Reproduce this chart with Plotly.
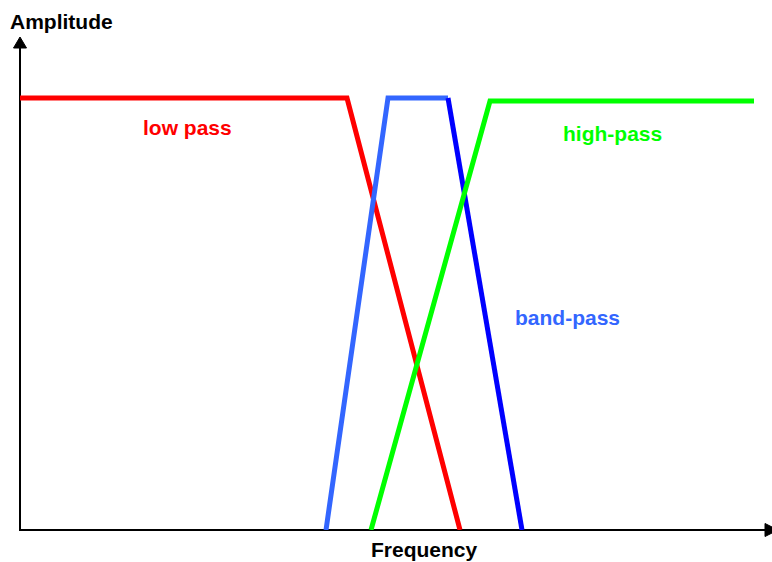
import plotly.graph_objects as go

# Filter response curves (frequency units, amplitude units)
low_x = [0, 327, 440]
low_y = [432, 432, 0]
band_rise_x = [306, 368, 428]
band_rise_y = [0, 432, 432]
band_fall_x = [428, 502]
band_fall_y = [432, 0]
high_x = [351, 470, 734]
high_y = [0, 429, 429]

labels = ["low pass", "high-pass", "band-pass"]
label_x = [167, 592, 547]
label_y = [403, 397, 213]
label_colors = ["#ff0000", "#00ff00", "#3366ff"]

W, H = 772, 562
ML, MR, MT, MB = 20, 0, 30, 32
PW, PH = W - ML - MR, H - MT - MB


def px(x):
    return (x - ML) / PW


def py(y):
    return (H - MB - y) / PH


fig = go.Figure()
lw = 5
fig.add_trace(go.Scatter(x=low_x, y=low_y, mode="lines", line=dict(color="#ff0000", width=lw), cliponaxis=False))
fig.add_trace(go.Scatter(x=band_rise_x, y=band_rise_y, mode="lines", line=dict(color="#3366ff", width=lw), cliponaxis=False))
fig.add_trace(go.Scatter(x=band_fall_x, y=band_fall_y, mode="lines", line=dict(color="#0000ff", width=lw), cliponaxis=False))
fig.add_trace(go.Scatter(x=high_x, y=high_y, mode="lines", line=dict(color="#00ff00", width=lw), cliponaxis=False))

font = dict(family="Liberation Sans, Arial, sans-serif", size=21, weight="bold")
for t, x, y, c in zip(labels, label_x, label_y, label_colors):
    fig.add_annotation(x=x, y=y, text=t, showarrow=False, font=dict(font, color=c), xanchor="center", yanchor="middle")

fig.add_annotation(xref="paper", yref="paper", x=px(61), y=py(22), text="Amplitude", showarrow=False,
                   font=dict(font, color="black"), xanchor="center", yanchor="middle")
fig.add_annotation(xref="paper", yref="paper", x=px(424), y=py(549), text="Frequency", showarrow=False,
                   font=dict(font, color="black"), xanchor="center", yanchor="middle")

# axes with arrowheads
ax_line = dict(color="black", width=2)
fig.add_shape(type="line", xref="paper", yref="paper", x0=px(20), y0=py(531), x1=px(20), y1=py(46), line=ax_line, layer="below")
fig.add_shape(type="line", xref="paper", yref="paper", x0=px(19), y0=py(530), x1=px(766), y1=py(530), line=ax_line, layer="below")
fig.add_shape(type="path", xref="paper", yref="paper",
              path=f"M {px(13.5)} {py(48)} L {px(20)} {py(37)} L {px(26.5)} {py(48)} Z",
              fillcolor="black", line=dict(color="black", width=1))
fig.add_shape(type="path", xref="paper", yref="paper",
              path=f"M {px(765)} {py(523.5)} L {px(778)} {py(530)} L {px(765)} {py(536.5)} Z",
              fillcolor="black", line=dict(color="black", width=1))

fig.update_layout(
    width=W, height=H,
    margin=dict(l=ML, r=MR, t=MT, b=MB),
    paper_bgcolor="white", plot_bgcolor="white",
    showlegend=False,
    xaxis=dict(range=[0, PW], visible=False, fixedrange=True),
    yaxis=dict(range=[0, PH], visible=False, fixedrange=True),
)

fig.write_html("out.html", config={"displayModeBar": False},
               post_script="document.body.style.margin='0';document.body.style.overflow='hidden';")
